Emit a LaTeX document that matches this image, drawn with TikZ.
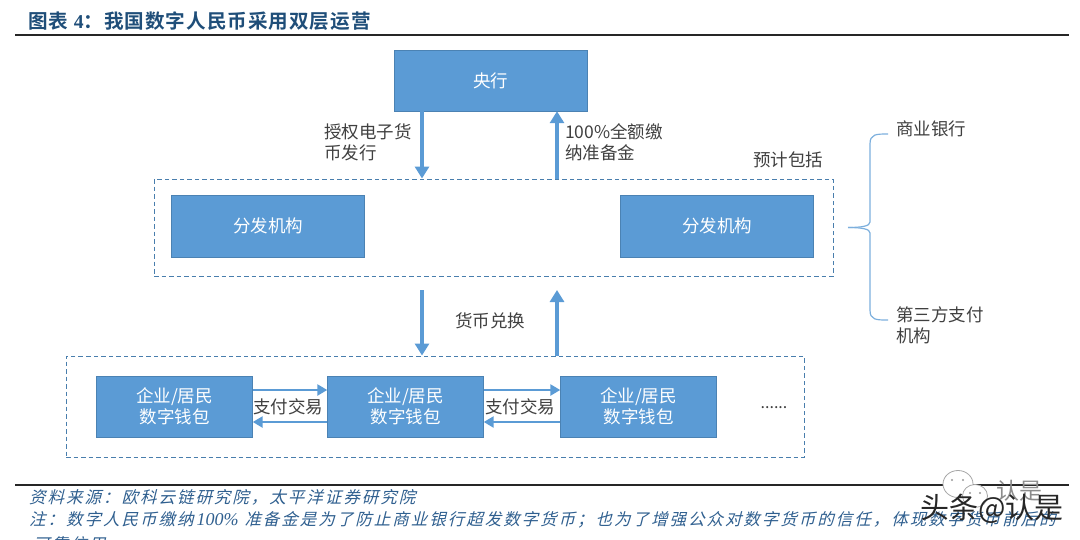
\documentclass[tikz,border=0pt]{standalone}
\usepackage{fontspec}
\usepackage{xcolor}
\usetikzlibrary{positioning,arrows.meta,shapes.geometric}
\setmainfont{Noto Sans CJK SC}
\newfontfamily\titlefont[BoldFont={Noto Sans CJK SC Bold},LetterSpace=5]{Noto Sans CJK SC}
\newfontfamily\notefont[FakeSlant=0.25,LetterSpace=12]{Noto Sans CJK SC}
\newfontfamily\latinfont{Liberation Serif}
\definecolor{BoxBlue}{HTML}{5B9BD5}
\definecolor{EdgeBlue}{HTML}{41719C}
\definecolor{TitleBlue}{HTML}{1F4E79}
\definecolor{NoteBlue}{HTML}{2F5F8F}
\definecolor{LabelGray}{HTML}{404040}
\tikzset{
  bluebox/.style={draw=EdgeBlue!60!BoxBlue,fill=BoxBlue,text=white,inner sep=0pt,align=center,font=\fontsize{17.5}{21}\selectfont},
  dashbox/.style={draw=EdgeBlue!70!BoxBlue,dash pattern=on 4.5pt off 3pt,line width=1pt,inner sep=0pt},
  flow/.style={draw=BoxBlue,line width=3.4pt,-{Triangle[length=12pt,width=14pt]}},
  thinflow/.style={draw=BoxBlue,line width=2.4pt,-{Triangle[length=10pt,width=11pt]}},
  label/.style={text=LabelGray,align=left,inner sep=0pt,font=\fontsize{17.5}{21}\selectfont},
  notetext/.style={anchor=west,inner sep=0pt,text=NoteBlue,font=\notefont\fontsize{16.5}{18}\selectfont},
  bubble/.style={draw=black!35,fill=white,line width=0.8pt,ellipse}
}
\begin{document}
\begin{tikzpicture}[x=1pt,y=-1pt]
\useasboundingbox (0,0) rectangle (1080,539);
% heading
\node[anchor=west,inner sep=0pt,text=TitleBlue,font=\titlefont\bfseries\fontsize{19.6}{22}\selectfont] (title) at (28,21) {图表 {\latinfont\bfseries 4}：我国数字人民币采用双层运营};
\coordinate (ruleA) at (15,35);
\coordinate (ruleB) at (1069,35);
\draw[line width=1.2pt,black!85] (ruleA) -- (ruleB);
% central bank
\node[bluebox,minimum width=193pt,minimum height=61pt] (bank) at (490.5,80.5) {央行};
% distribution layer
\node[dashbox,minimum width=679pt,minimum height=97pt] (layerA) at (493.5,227.5) {};
\node[bluebox,minimum width=193pt,minimum height=62pt] (distA) at (268,226) {分发机构};
\node[bluebox,minimum width=193pt,minimum height=62pt] (distB) at (717,226) {分发机构};
% wallet layer
\node[dashbox,minimum width=738pt,minimum height=101pt] (layerB) at (435,406.5) {};
\node[bluebox,minimum width=156pt,minimum height=61pt] (walletA) at (174.5,406.5) {企业/居民\\数字钱包};
\node[bluebox,minimum width=156pt,minimum height=61pt] (walletB) at (405.5,406.5) {企业/居民\\数字钱包};
\node[bluebox,minimum width=156pt,minimum height=61pt] (walletC) at (638.5,406.5) {企业/居民\\数字钱包};
\node[label,font=\fontsize{16}{20}\selectfont] (more) at (774,408) {......};
% arrows
\draw[flow] (bank.south -| 422,0) -- (layerA.north -| 422,0);
\draw[flow] (layerA.north -| 557,0) -- (bank.south -| 557,0);
\draw[flow] (422,290) -- (layerB.north -| 422,0);
\draw[flow] (layerB.north -| 557,0) -- (557,290);
\draw[thinflow] (walletA.east |- 0,390) -- (walletB.west |- 0,390);
\draw[thinflow] (walletB.west |- 0,422) -- (walletA.east |- 0,422);
\draw[thinflow] (walletB.east |- 0,390) -- (walletC.west |- 0,390);
\draw[thinflow] (walletC.west |- 0,422) -- (walletB.east |- 0,422);
% labels
\node[label,anchor=west] (grant) at (324,142) {授权电子货\\币发行};
\node[label,anchor=west] (reserve) at (565,142) {100\%全额缴\\纳准备金};
\node[label] (plan) at (788,160) {预计包括};
\node[label] (swap) at (490,321) {货币兑换};
\node[label] (payA) at (288,407) {支付交易};
\node[label] (payB) at (520,407) {支付交易};
\node[label,anchor=west] (commercial) at (896,129) {商业银行};
\node[label,anchor=west] (third) at (896,325) {第三方支付\\机构};
% brace
\coordinate (braceTip) at (848,227.5);
\coordinate (braceTop) at (888,134);
\coordinate (braceBot) at (888,320);
\draw[BoxBlue!80,line width=1.2pt] (braceTop) .. controls (876,134) and (870,134) .. (870,144) -- (870,222) .. controls (870,226) and (862,227.5) .. (braceTip);
\draw[BoxBlue!80,line width=1.2pt] (braceBot) .. controls (876,320) and (870,320) .. (870,310) -- (870,233) .. controls (870,229) and (862,227.5) .. (braceTip);
% footer
\coordinate (footA) at (15,485);
\coordinate (footB) at (1069,485);
\draw[line width=1.4pt,black!85] (footA) -- (footB);
\node[notetext] (source) at (29,497) {资料来源：欧科云链研究院，太平洋证券研究院};
\node[notetext] (note) at (29,520) {注：数字人民币缴纳\hspace{3pt}{\latinfont\itshape\fontsize{18}{18}\selectfont 100\%}\hspace{6pt}准备金是为了防止商业银行超发数字货币；也为了增强公众对数字货币的信任，体现数字货币前后的};
\node[notetext] (noteB) at (33,544) {可靠信用};
% watermark
\node[bubble,minimum width=30pt,minimum height=27pt] (bubbleA) at (958,484) {};
\node[bubble,minimum width=25pt,minimum height=23pt] (bubbleB) at (975,496) {};
\foreach \ex/\ey in {952/480,963/480,970/493,980/493}
  \fill[black!40] (\ex,\ey) circle (1.1pt);
\node[anchor=west,inner sep=0pt,text=black!45,font=\fontsize{23}{26}\selectfont] (markB) at (996,491) {认是};
\node[anchor=west,inner sep=0pt,text=black!85,font=\fontsize{29}{32}\selectfont] (mark) at (920,509) {头条@认是};
\end{tikzpicture}
\end{document}
